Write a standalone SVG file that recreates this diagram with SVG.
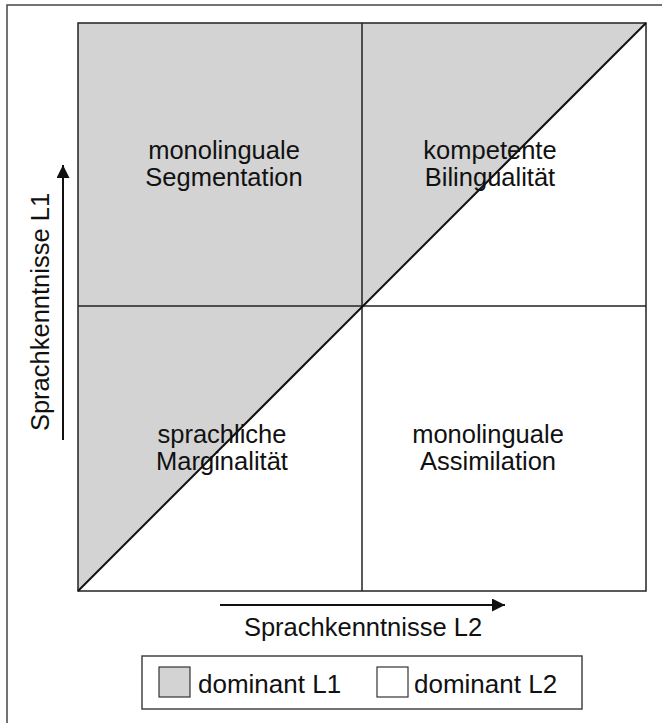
<svg xmlns="http://www.w3.org/2000/svg" width="662" height="723" viewBox="0 0 662 723">
<style>
  .frame{fill:none;stroke:#444;stroke-width:1.5}
  .grid{fill:none;stroke:#222;stroke-width:1.5}
  .lbl{font-family:"Liberation Sans",Arial,sans-serif;font-size:25.5px;fill:#111;text-anchor:middle}
  .ax{font-family:"Liberation Sans",Arial,sans-serif;font-size:25.5px;fill:#111;text-anchor:middle}
  .leg{font-family:"Liberation Sans",Arial,sans-serif;font-size:26px;fill:#111}
  .arrow{stroke:#111;stroke-width:2;fill:none}
</style>
<defs>
  <marker id="ah" viewBox="0 0 10 10" refX="10" refY="5" markerWidth="8.5" markerHeight="6.5" markerUnits="strokeWidth" orient="auto">
    <path d="M0,0 L10,5 L0,10 Z" fill="#111"/>
  </marker>
</defs>
<rect width="662" height="723" fill="#fff"/>
<rect class="frame" x="7" y="5" width="665" height="730"/>
<g id="chart">
  <polygon points="78,23 646,23 78,591" fill="#d3d3d3"/>
  <rect class="grid" x="78" y="23" width="568" height="568"/>
  <line class="grid" x1="362" y1="23" x2="362" y2="591"/>
  <line class="grid" x1="78" y1="306" x2="646" y2="306"/>
  <line x1="78" y1="591" x2="646" y2="23" stroke="#111" stroke-width="2"/>
</g>
<g id="cell-ul"><text class="lbl" x="224" y="159">monolinguale</text><text class="lbl" x="224" y="186">Segmentation</text></g>
<g id="cell-ur"><text class="lbl" x="490" y="159">kompetente</text><text class="lbl" x="490" y="186">Bilingualität</text></g>
<g id="cell-ll"><text class="lbl" x="222" y="443">sprachliche</text><text class="lbl" x="222" y="470">Marginalität</text></g>
<g id="cell-lr"><text class="lbl" x="488" y="443">monolinguale</text><text class="lbl" x="488" y="470">Assimilation</text></g>
<g id="connectors">
  <line class="arrow" x1="63" y1="440" x2="63" y2="165" marker-end="url(#ah)"/>
  <line class="arrow" x1="220" y1="605" x2="505" y2="605" marker-end="url(#ah)"/>
</g>
<g id="axis-y"><text class="ax" transform="translate(49,312) rotate(-90)">Sprachkenntnisse L1</text></g>
<g id="axis-x"><text class="ax" x="363" y="636">Sprachkenntnisse L2</text></g>
<g id="legend">
  <rect x="142" y="656" width="440" height="53" fill="#fff" stroke="#444" stroke-width="1.5"/>
  <rect x="159" y="667" width="31" height="30" fill="#d3d3d3" stroke="#333" stroke-width="1.2"/>
  <text class="leg" x="198" y="693">dominant L1</text>
  <rect x="377" y="667" width="31" height="30" fill="#fff" stroke="#333" stroke-width="1.2"/>
  <text class="leg" x="414" y="693">dominant L2</text>
</g>
</svg>
